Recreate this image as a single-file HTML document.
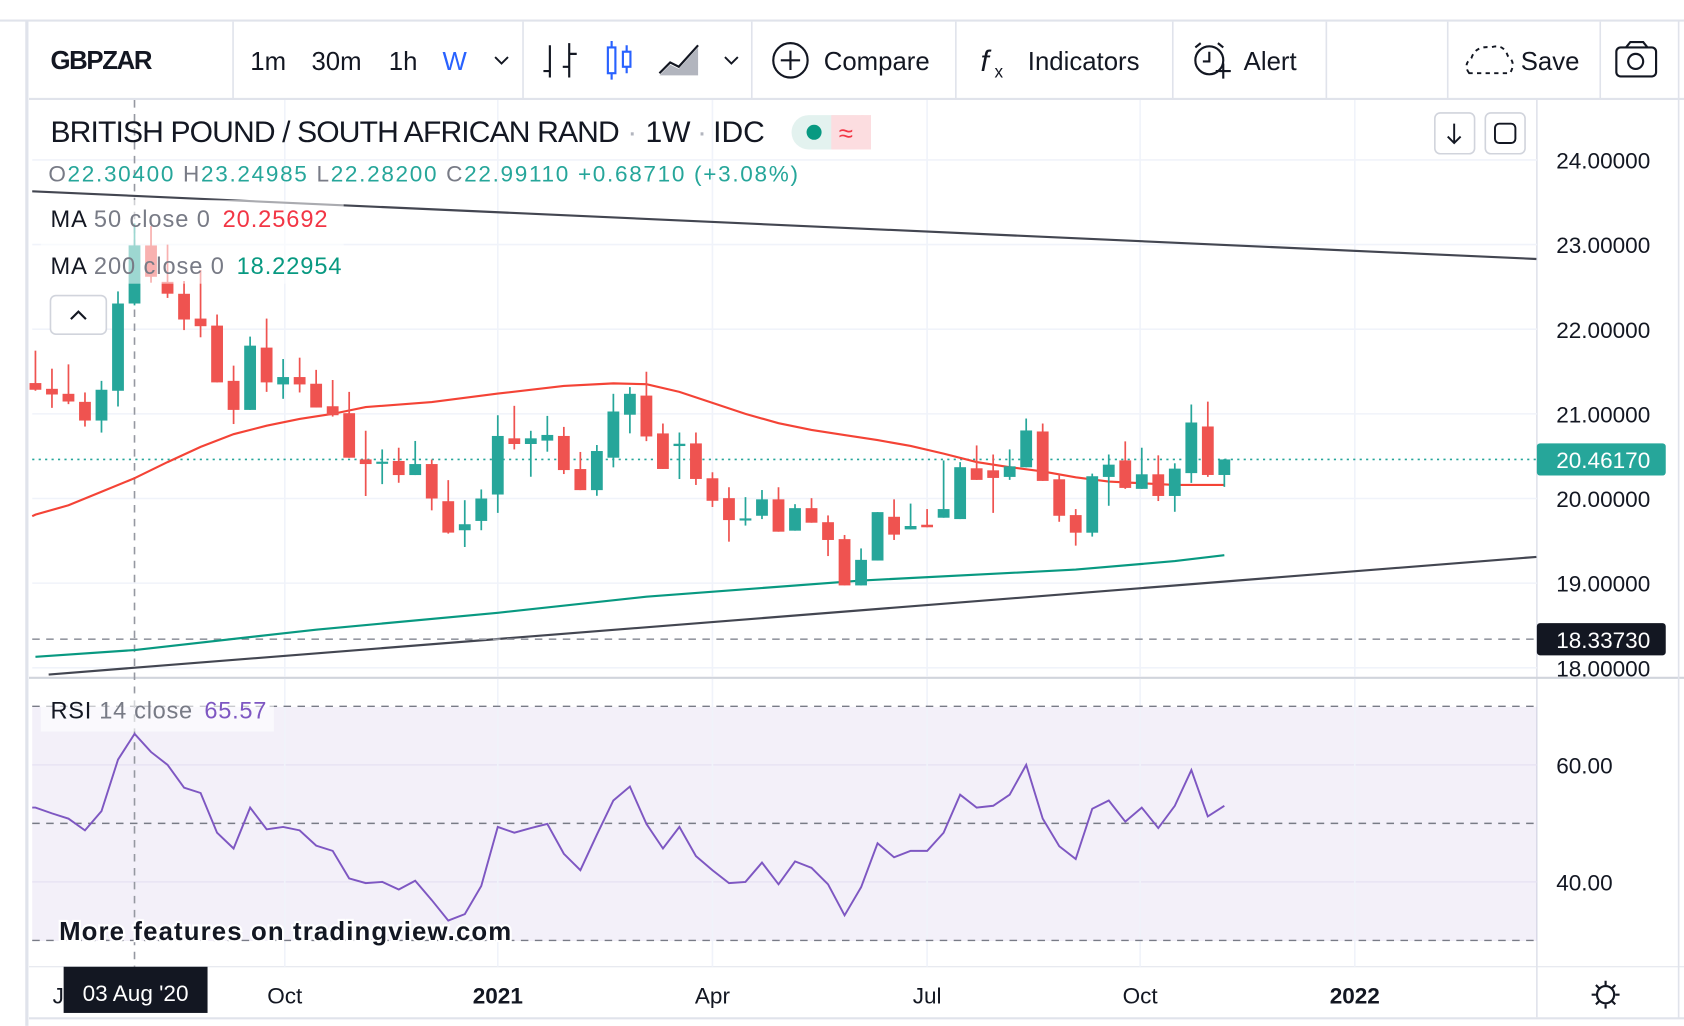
<!DOCTYPE html>
<html><head><meta charset="utf-8">
<style>
html,body{margin:0;padding:0;background:#fff;width:1684px;height:1026px;overflow:hidden}
svg{display:block;font-family:"Liberation Sans",sans-serif}
</style></head>
<body>
<svg id="chart" width="1684" height="1026" viewBox="0 0 1568 955" xmlns="http://www.w3.org/2000/svg">
<rect x="0" y="0" width="1568" height="955" fill="#fff"/>
<g>
<line x1="0" y1="19" x2="1568" y2="19" stroke="#e0e3eb" stroke-width="2"/>
<line x1="25" y1="19" x2="25" y2="955" stroke="#e0e3eb" stroke-width="3"/>
<line x1="27" y1="92" x2="1568" y2="92" stroke="#e0e3eb" stroke-width="2"/>
<g stroke="#e0e3eb" stroke-width="1.5">
<line x1="217" y1="20" x2="217" y2="92"/><line x1="487" y1="20" x2="487" y2="92"/><line x1="700" y1="20" x2="700" y2="92"/><line x1="890" y1="20" x2="890" y2="92"/><line x1="1092" y1="20" x2="1092" y2="92"/><line x1="1235" y1="20" x2="1235" y2="92"/><line x1="1348" y1="20" x2="1348" y2="92"/><line x1="1490" y1="20" x2="1490" y2="92"/>
</g>
<text x="47" y="64" font-size="24" font-weight="bold" fill="#131722" textLength="95">GBPZAR</text>
<text x="233" y="65" font-size="24" fill="#131722">1m</text>
<text x="290" y="65" font-size="24" fill="#131722">30m</text>
<text x="362" y="65" font-size="24" fill="#131722">1h</text>
<text x="412" y="65" font-size="24" fill="#2962ff">W</text>
<path d="M461 53 L467 59 L473 53" fill="none" stroke="#131722" stroke-width="1.8"/>
<g stroke="#131722" stroke-width="2" fill="none"><path d="M512 42 V72 M506 66 H512 M530 40 V72 M530 50 H537 M524 62 H530"/></g>
<g stroke="#2962ff" stroke-width="2" fill="none"><rect x="566" y="44" width="7" height="24"/><path d="M569.5 38 V44 M569.5 68 V74"/><rect x="580" y="48" width="7" height="14"/><path d="M583.5 42 V48 M583.5 62 V68"/></g>
<g><path d="M614 70 L624 60 L632 64 L650 44 L650 70 Z" fill="#b2b5be"/><path d="M614 68 L624 58 L632 62 L650 42" fill="none" stroke="#131722" stroke-width="2"/></g>
<path d="M675 53 L681 59 L687 53" fill="none" stroke="#131722" stroke-width="1.8"/>
<g><circle cx="736" cy="56" r="16" fill="none" stroke="#131722" stroke-width="2"/><path d="M736 47 V65 M727 56 H745" stroke="#131722" stroke-width="2"/><text x="767" y="65" font-size="24" fill="#131722">Compare</text></g>
<g><text x="913" y="66" font-size="28" font-style="italic" fill="#131722">f</text><text x="926" y="72" font-size="16" fill="#131722">x</text><text x="957" y="65" font-size="24" fill="#131722">Indicators</text></g>
<g fill="none" stroke="#131722" stroke-width="2"><circle cx="1126" cy="56" r="13"/><path d="M1126 48 V57 H1120 M1113 44 L1118 40 M1139 44 L1134 40 M1132 66 H1146 M1139 59 V73"/><text x="1158" y="65" font-size="24" fill="#131722" stroke="none">Alert</text></g>
<g><path d="M1368 68 Q1362 60 1370 54 Q1374 42 1388 44 Q1400 40 1404 52 Q1412 58 1406 68 Z" fill="none" stroke="#131722" stroke-width="1.8" stroke-dasharray="4 4"/><text x="1416" y="65" font-size="24" fill="#131722">Save</text></g>
<g fill="none" stroke="#131722" stroke-width="2"><rect x="1505" y="44" width="37" height="27" rx="4"/><path d="M1514 44 L1518 39 H1530 L1534 44"/><circle cx="1523" cy="57" r="7"/></g>
</g>
<line x1="1431" y1="93" x2="1431" y2="947" stroke="#e0e3eb" stroke-width="1.5"/>
<line x1="27" y1="631" x2="1568" y2="631" stroke="#d1d4dc" stroke-width="2"/>
<line x1="27" y1="900" x2="1568" y2="900" stroke="#e0e3eb" stroke-width="1"/>
<line x1="27" y1="948" x2="1568" y2="948" stroke="#e0e3eb" stroke-width="2"/>
<line x1="1563" y1="19" x2="1563" y2="948" stroke="#e0e3eb" stroke-width="1.5"/>
<rect x="30" y="658" width="1401" height="218" fill="#7e57c2" fill-opacity="0.09"/>
<g id="grid"></g>
<g id="rsiGuides"></g>
<g id="trend"></g>
<g id="ma"></g>
<g id="candles"></g>
<g id="rsi"></g>
<g id="axes"></g>
<g>
<text x="47" y="132" font-size="28" fill="#131722" textLength="530">BRITISH POUND / SOUTH AFRICAN RAND</text>
<text x="584" y="132" font-size="28" fill="#b2b5be">·</text>
<text x="601" y="132" font-size="28" fill="#131722">1W</text>
<text x="649" y="132" font-size="28" fill="#b2b5be">·</text>
<text x="664" y="132" font-size="28" fill="#131722">IDC</text>
<g><rect x="737" y="107" width="74" height="32" rx="16" fill="#e3f2ef"/><rect x="774" y="107" width="37" height="32" rx="0" fill="#fcdde0"/><rect x="795" y="107" width="16" height="32" rx="10" fill="#fcdde0"/><circle cx="758" cy="123" r="7" fill="#089981"/><text x="781" y="132" font-size="24" fill="#f23645">≈</text></g>
<text x="45" y="169" font-size="21" fill="#26a69a" textLength="698"><tspan fill="#787b86">O</tspan>22.30400 <tspan fill="#787b86">H</tspan>23.24985 <tspan fill="#787b86">L</tspan>22.28200 <tspan fill="#787b86">C</tspan>22.99110 +0.68710 (+3.08%)</text>
</g>
<rect x="38" y="186" width="282" height="78" fill="#fff" fill-opacity="0.55"/>
<text x="47" y="211" font-size="22" fill="#131722" textLength="258">MA <tspan fill="#787b86">50 close 0</tspan> <tspan fill="#f23645" dx="4">20.25692</tspan></text>
<text x="47" y="255" font-size="22" fill="#131722" textLength="271">MA <tspan fill="#787b86">200 close 0</tspan> <tspan fill="#089981" dx="4">18.22954</tspan></text>
<g><rect x="47" y="275" width="52" height="36" rx="5" fill="#fff" stroke="#d1d4dc" stroke-width="1.5"/><path d="M66 297 L73 290 L80 297" fill="none" stroke="#131722" stroke-width="2"/></g>
<g><rect x="1336" y="105" width="37" height="38" rx="5" fill="#fff" stroke="#d1d4dc" stroke-width="1.5"/><path d="M1354 115 V133 M1348 127 L1354 133 L1360 127" fill="none" stroke="#131722" stroke-width="1.8"/></g>
<g><rect x="1383" y="105" width="37" height="38" rx="5" fill="#fff" stroke="#d1d4dc" stroke-width="1.5"/><rect x="1392" y="115" width="19" height="18" rx="4" fill="none" stroke="#131722" stroke-width="1.8"/></g>
<rect x="38" y="645" width="217" height="36" fill="#fff" fill-opacity="0.6"/>
<text x="47" y="669" font-size="22" fill="#131722" textLength="201">RSI <tspan fill="#787b86">14 close</tspan> <tspan fill="#7e57c2" dx="4">65.57</tspan></text>
<text x="55" y="875" font-size="24" font-weight="bold" fill="#131722" stroke="#fff" stroke-width="4" paint-order="stroke" textLength="421">More features on tradingview.com</text>
<g><circle cx="1495" cy="926" r="8" fill="none" stroke="#131722" stroke-width="2"/><path d="M1495 913 V917 M1495 935 V939 M1482 926 H1486 M1504 926 H1508 M1486 917 L1489 920 M1501 932 L1504 935 M1504 917 L1501 920 M1489 932 L1486 935" stroke="#131722" stroke-width="2"/></g>
<g id="overlays"></g>
</svg>
<script>
const NS='http://www.w3.org/2000/svg';
const opens=[21.364,21.296,21.237,21.142,20.921,21.273,22.304,22.99,22.56,22.419,22.126,22.043,21.39,21.047,21.783,21.348,21.435,21.356,21.09,21.008,20.462,20.423,20.443,20.277,20.407,19.968,19.625,19.735,20.047,20.711,20.644,20.684,20.739,20.348,20.099,20.482,20.99,21.216,20.769,20.62,20.651,20.239,20.004,19.753,19.796,19.99,19.62,19.886,19.72,19.52,18.973,19.267,19.784,19.635,19.69,19.773,19.757,20.357,20.333,20.255,20.369,20.792,20.227,19.804,19.596,20.255,20.45,20.114,20.286,20.03,20.30,20.851,20.278];
const closes=[21.285,21.229,21.146,20.921,21.285,22.304,22.991,22.62,22.42,22.115,22.036,21.372,21.047,21.806,21.372,21.435,21.348,21.075,20.984,20.482,20.407,20.435,20.277,20.407,20.0,19.597,19.696,20.0,20.739,20.644,20.711,20.751,20.336,20.099,20.561,21.028,21.237,20.733,20.349,20.647,20.231,19.973,19.745,19.765,19.99,19.608,19.886,19.714,19.51,18.973,19.275,19.839,19.573,19.675,19.66,19.875,20.37,20.22,20.243,20.38,20.804,20.208,19.796,19.596,20.263,20.4,20.125,20.286,20.03,20.353,20.898,20.278,20.4617];
const highs=[21.747,21.534,21.585,21.253,21.39,22.447,23.25,23.22,23.0,22.57,22.70,22.174,21.57,21.913,22.126,21.648,21.664,21.52,21.40,21.26,20.80,20.58,20.60,20.68,20.46,20.217,19.98,20.107,20.984,21.095,20.80,20.976,20.846,20.55,20.632,21.237,21.316,21.498,20.886,20.78,20.78,20.31,20.133,20.016,20.10,20.133,19.933,20.004,19.80,19.569,19.41,19.839,19.99,19.94,19.875,20.45,20.43,20.627,20.52,20.58,20.945,20.886,20.294,19.875,20.294,20.52,20.675,20.60,20.51,20.416,21.11,21.145,20.467];
const lows=[21.273,21.071,21.115,20.85,20.779,21.087,22.282,22.55,22.37,21.99,21.905,21.372,20.88,21.047,21.26,21.178,21.253,21.075,20.968,20.482,20.03,20.17,20.186,20.277,19.86,19.585,19.427,19.625,19.83,20.58,20.257,20.553,20.289,20.099,20.032,20.368,20.77,20.678,20.349,20.23,20.16,19.90,19.49,19.68,19.757,19.608,19.62,19.714,19.32,18.973,18.973,19.267,19.51,19.635,19.66,19.773,19.757,20.22,19.83,20.22,20.369,20.208,19.725,19.443,19.55,19.914,20.114,20.114,19.97,19.843,20.184,20.255,20.137];
const rsiValues=[52.7,51.7,50.8,48.8,52.1,60.9,65.3,62.2,60.0,56.1,55.2,48.4,45.7,52.7,49.0,49.4,48.8,46.2,45.3,40.6,39.8,40.0,38.7,40.2,36.9,33.4,34.5,39.3,49.4,48.4,49.2,49.9,44.8,42.0,48.1,53.9,56.3,49.9,45.7,49.4,44.4,42.0,39.8,40.0,43.3,39.6,43.5,42.4,39.6,34.3,39.1,46.6,44.2,45.3,45.3,48.4,54.9,52.7,53.0,54.9,60.0,50.8,46.1,43.9,52.5,53.9,50.3,52.7,49.2,53.0,59.1,51.2,53.0];
const ma50Idx=[0,2,4,6,8,10,12,14,16,18,20,24,28,32,35,37,39,41,43,45,47,49,51,53,55,57,59,61,63,65,67,69,72];
const ma50Vals=[19.81,19.92,20.08,20.24,20.43,20.61,20.76,20.86,20.94,21.00,21.08,21.14,21.24,21.33,21.36,21.35,21.26,21.13,21.00,20.89,20.81,20.75,20.69,20.62,20.53,20.43,20.37,20.32,20.25,20.20,20.18,20.16,20.16];
const ma200Idx=[0,6,17,28,37,50,63,69,72];
const ma200Vals=[18.13,18.21,18.45,18.65,18.84,19.03,19.16,19.26,19.33];
const trendUpper=[[-0.2,23.63],[90.9,22.83]];
const trendLower=[[0.8,17.92],[90.9,19.31]];
const priceTicks=[24,23,22,21,20,19,18];
const rsiTicks=[60,40];
const rsiLevels=[70,50,30];
const xLabels=['Oct','2021','Apr','Jul','Oct','2022'];
const xLabelIdx=[15.1,28.0,41.0,54.0,66.9,79.9];
const lastPrice=20.4617, crossPrice=18.3373, crossIdx=6;

const xS=i=>33+i*15.375;
const yP=p=>464-(p-20)*78.8;
const yR=r=>821-(r-40)*5.45;
function mk(tag,attrs,parent){const e=document.createElementNS(NS,tag);for(const k in attrs)e.setAttribute(k,attrs[k]);parent.appendChild(e);return e;}
const g=id=>document.getElementById(id);

const grid=g('grid');
priceTicks.forEach(p=>{const l=mk('line',{x1:30,x2:1431,y1:yP(p),y2:yP(p),stroke:'#f0f3fa','stroke-width':1.5},grid);

});
rsiTicks.forEach(r=>{const l=mk('line',{x1:30,x2:1431,y1:yR(r),y2:yR(r),stroke:'#e6e1f2','stroke-width':1.2},grid);

});
xLabelIdx.forEach(i=>{[[93,630],[632,900]].forEach(([a,b])=>{const l=mk('line',{x1:xS(i),x2:xS(i),y1:a,y2:b,stroke:'#f0f3fa','stroke-width':1.5},grid);

});});

const rg=g('rsiGuides');
rsiLevels.forEach(r=>{const l=mk('line',{x1:30,x2:1431,y1:yR(r),y2:yR(r),stroke:'#787b86','stroke-width':1.3,'stroke-dasharray':'7 6'},rg);

});

const tr=g('trend');
[trendUpper,trendLower].forEach((t,k)=>{const l=mk('line',{x1:Math.max(30,xS(t[0][0])),y1:yP(t[0][1]),x2:xS(t[1][0]),y2:yP(t[1][1]),stroke:'#434651','stroke-width':2},tr);

});

const ov=g('ma');
let dl=mk('line',{x1:30,x2:1431,y1:yP(lastPrice),y2:yP(lastPrice),stroke:'#26a69a','stroke-width':1.5,'stroke-dasharray':'2 4'},ov);


let ch=mk('line',{x1:30,x2:1431,y1:yP(crossPrice),y2:yP(crossPrice),stroke:'#9598a1','stroke-width':1.5,'stroke-dasharray':'7 6'},ov);


let cv=mk('line',{x1:xS(crossIdx),x2:xS(crossIdx),y1:93,y2:900,stroke:'#9598a1','stroke-width':1.5,'stroke-dasharray':'7 6'},ov);



let d=ma50Idx.map((i,k)=>(k?'L':'M')+Math.max(30,xS(i)).toFixed(1)+' '+yP(ma50Vals[k]).toFixed(1)).join(' ');
let m50=mk('path',{d:'M30 '+yP(ma50Vals[0]-0.02).toFixed(1)+' '+d.replace(/^M/,'L'),fill:'none',stroke:'#f44336','stroke-width':2},ov);


d=ma200Idx.map((i,k)=>(k?'L':'M')+Math.max(30,xS(i)).toFixed(1)+' '+yP(ma200Vals[k]).toFixed(1)).join(' ');
let m200=mk('path',{d:d,fill:'none',stroke:'#089981','stroke-width':2},ov);



const cg=g('candles');
opens.forEach((o,i)=>{const c=closes[i],up=c>=o,col=up?'#26a69a':'#ef5350',x=xS(i);
const grp=mk('g',{},cg);


mk('line',{x1:x,x2:x,y1:yP(highs[i]),y2:yP(lows[i]),stroke:col,'stroke-width':1.6},grp);
const top=yP(Math.max(o,c)),h=Math.max(2,yP(Math.min(o,c))-top);
mk('rect',{x:x-5.5,y:top,width:11,height:h,fill:col},grp);});

d=rsiValues.map((r,i)=>(i?'L':'M')+xS(i).toFixed(1)+' '+yR(r).toFixed(1)).join(' ');
let rl=mk('path',{d:'M30 '+yR(rsiValues[0]).toFixed(1)+' '+d.replace(/^M/,'L'),fill:'none',stroke:'#7e57c2','stroke-width':1.8},g('rsi'));



const ax=g('axes');
priceTicks.forEach(p=>{const t=mk('text',{x:1449,y:yP(p)+8,'font-size':21,fill:'#131722'},ax);t.textContent=p.toFixed(5);

});
rsiTicks.forEach(r=>{const t=mk('text',{x:1449,y:yR(r)+8,'font-size':21,fill:'#131722'},ax);t.textContent=r.toFixed(2);

});
xLabels.forEach((s,k)=>{const t=mk('text',{x:xS(xLabelIdx[k]),y:934,'font-size':21,fill:'#131722','text-anchor':'middle','font-weight':/^\d/.test(s)?'bold':'normal'},ax);t.textContent=s;

});
let jt=mk('text',{x:49,y:934,'font-size':21,fill:'#131722'},ax);jt.textContent='J';



const o2=g('overlays');
function badge(y,bg,txt,name){const gg=mk('g',{},o2);


mk('rect',{x:1431,y:y-15,width:120,height:30,rx:3,fill:bg},gg);
const t=mk('text',{x:1449,y:y+8,'font-size':21,fill:'#fff'},gg);t.textContent=txt;}
badge(yP(lastPrice),'#26a69a',lastPrice.toFixed(5),'last-price-badge');
badge(yP(crossPrice),'#131722',crossPrice.toFixed(5),'crosshair-price-badge');
const tg=mk('g',{},o2);


mk('rect',{x:xS(crossIdx)-66,y:900,width:134,height:43,fill:'#131722'},tg);
const tt=mk('text',{x:xS(crossIdx)+1,y:932,'font-size':21,fill:'#fff','text-anchor':'middle'},tg);tt.textContent="03 Aug '20";
</script>
</body></html>
